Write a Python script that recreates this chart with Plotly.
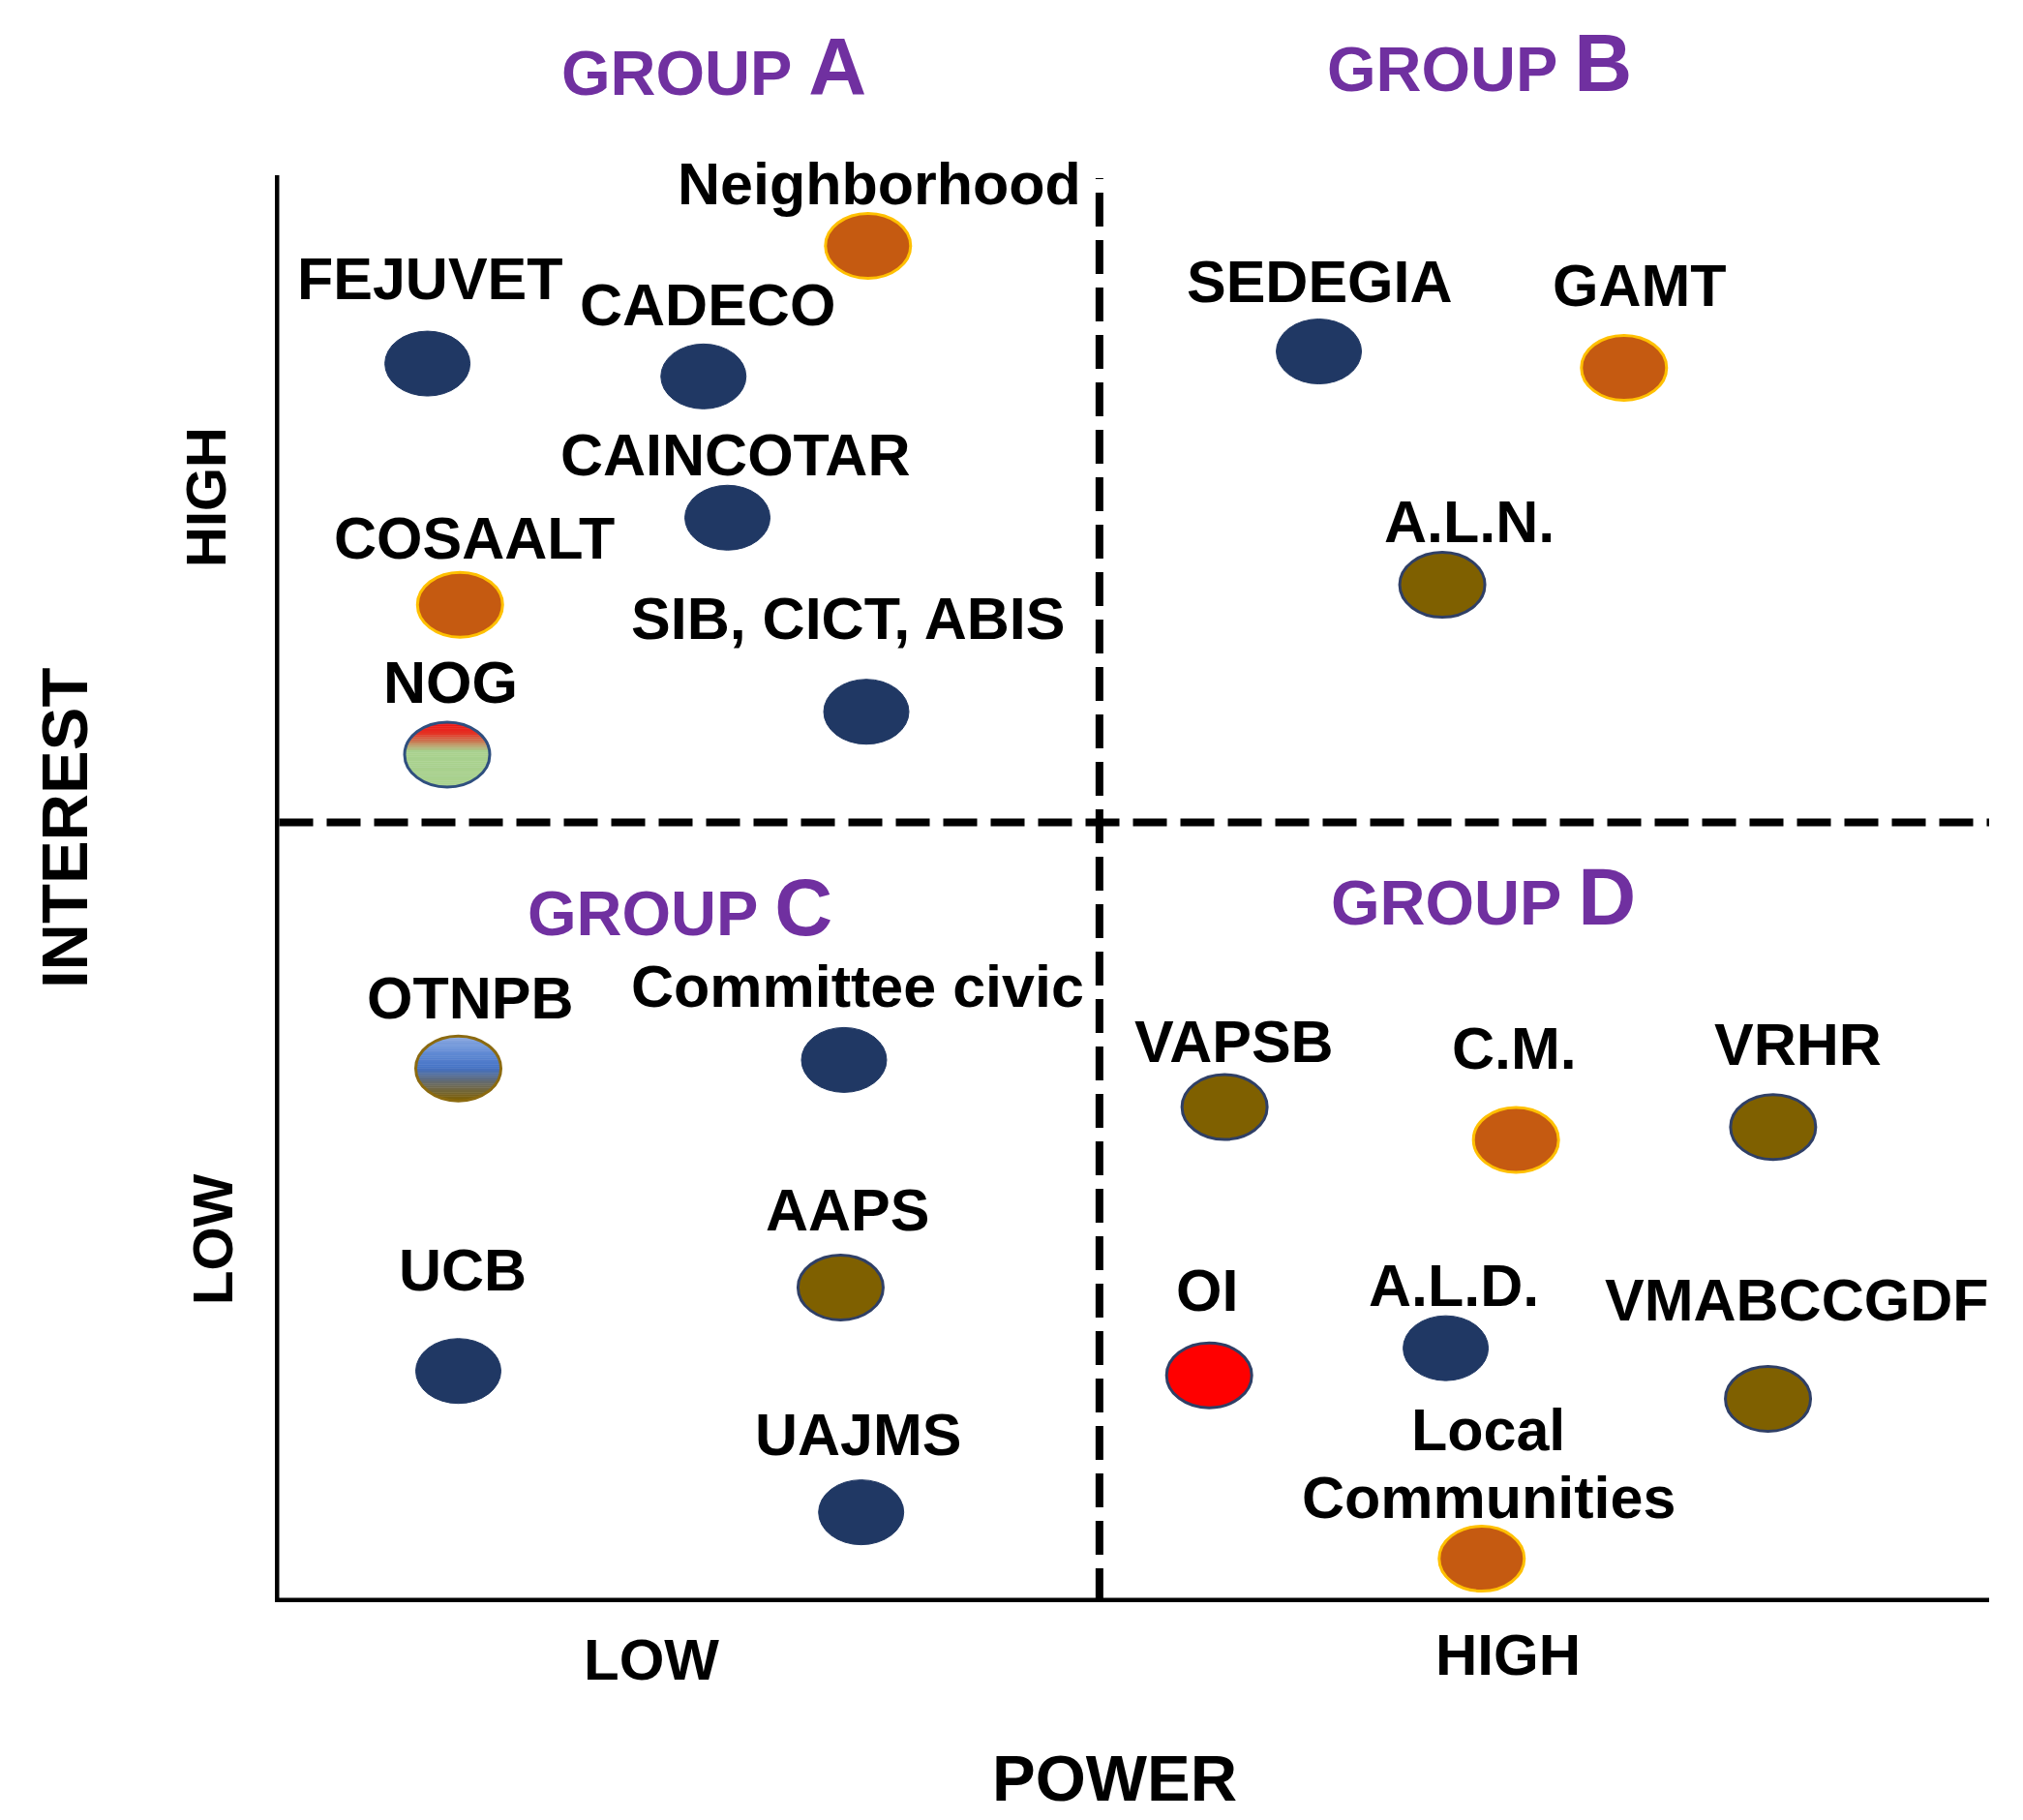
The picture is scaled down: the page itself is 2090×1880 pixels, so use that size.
import plotly.graph_objects as go
import numpy as np

# ---------------- data ----------------
names = ["Neighborhood", "FEJUVET", "CADECO", "CAINCOTAR", "COSAALT",
         "SIB, CICT, ABIS", "NOG", "SEDEGIA", "GAMT", "A.L.N.",
         "OTNPB", "Committee civic", "AAPS", "UCB", "UAJMS",
         "VAPSB", "C.M.", "VRHR", "OI", "A.L.D.", "VMABCCGDF",
         "Local<br>Communities"]
power = [34.6, 8.9, 25.0, 26.4, 10.8, 34.5, 10.05, 60.9, 78.7, 68.1,
         10.7, 33.2, 33.0, 10.7, 34.2, 55.4, 72.4, 87.4, 54.5, 68.3, 87.1, 70.4]
interest = [95.05, 86.8, 85.9, 76.0, 69.9, 62.4, 59.4, 87.65, 86.5, 71.3,
            37.4, 38.0, 22.05, 16.2, 6.3, 34.7, 32.4, 33.3, 15.9, 17.8, 14.25, 3.05]
kind = ["orange", "navy", "navy", "navy", "orange", "navy", "nog", "navy",
        "orange", "olive", "otnpb", "navy", "olive", "navy", "navy", "olive",
        "orange", "olive", "red", "navy", "olive", "orange"]
power_split = 48.1
interest_split = 54.65
groups = ["A", "B", "C", "D"]

# ---------------- styling ----------------
W, H = 2090, 1880
ML, MR, MT, MB = 284, 35, 181, 225
PW, PH = W - ML - MR, H - MT - MB
RX, RY = 44 * 100 / PW, 33.5 * 100 / PH  # ellipse radii in data units
AXW = 9      # axis line width (px)
DASHW = 8    # divider line width (px)

styles = {
    "navy": dict(fill="#203864", line="#203864", lw=1),
    "orange": dict(fill="#C55A11", line="#FFC000", lw=3),
    "olive": dict(fill="#7F6000", line="#2F3F66", lw=3),
    "red": dict(fill="#FF0000", line="#2F3F66", lw=3),
}
gradients = {
    "nog": dict(stops=[(0.0, "#EE1111"), (0.18, "#E53325"), (0.45, "#A9D18E"), (1.0, "#A9D18E")],
                line="#2F4F7F"),
    "otnpb": dict(stops=[(0.0, "#8EAADF"), (0.2, "#6A92D8"), (0.5, "#4472C4"), (0.75, "#6A6A60"), (1.0, "#7F6000")],
                  line="#8B6A10"),
}
LABEL_LIFT = 5
LINE_H = 70
label_shift = [(12, 59), (3, 83), (4, 69), (8, 60), (15, 64), (-19, 91), (4, 69),
               (1, 67), (16, 80), (28, 60), (12, 68), (14, 71), (7, 75), (4, 99),
               (-3, 75), (10, 63), (-2, 89), (26, 80), (-2, 83), (8, 60), (29, 97), (7, 93)]

PURPLE = "#7030A0"
FONT = "Liberation Sans"


def paper_x(px):
    return (px - ML) / PW


def paper_y(py):
    return (H - MB - py) / PH


def hex_to_rgb(h):
    h = h.lstrip("#")
    return tuple(int(h[i:i + 2], 16) for i in (0, 2, 4))


def interp_color(stops, t):
    for (t0, c0), (t1, c1) in zip(stops[:-1], stops[1:]):
        if t0 <= t <= t1:
            f = 0 if t1 == t0 else (t - t0) / (t1 - t0)
            a, b = hex_to_rgb(c0), hex_to_rgb(c1)
            r = [round(a[i] + (b[i] - a[i]) * f) for i in range(3)]
            return "rgb(%d,%d,%d)" % tuple(r)
    return stops[-1][1]


fig = go.Figure()
fig.add_trace(go.Scatter(x=power, y=interest, mode="markers",
                         marker=dict(size=1, opacity=0), hoverinfo="text",
                         text=[n.replace("<br>", " ") for n in names], showlegend=False))

shapes = []
# axis lines (drawn as shapes so they are centred on the plot edges)
half_x = AXW / 2 * 100 / PW
shapes.append(dict(type="line", xref="x", yref="y", x0=0, x1=0, y0=0, y1=100,
                   line=dict(color="black", width=AXW)))
shapes.append(dict(type="line", xref="x", yref="y", x0=-half_x, x1=100, y0=0, y1=0,
                   line=dict(color="black", width=AXW)))
# dividers
shapes.append(dict(type="line", xref="x", yref="y", x0=power_split, x1=power_split,
                   y0=0, y1=99.8, line=dict(color="black", width=DASHW, dash="35px,14px")))
shapes.append(dict(type="line", xref="x", yref="y", x0=half_x, x1=100,
                   y0=interest_split, y1=interest_split,
                   line=dict(color="black", width=DASHW, dash="35px,14px")))

for x, y, k in zip(power, interest, kind):
    if k in styles:
        s = styles[k]
        shapes.append(dict(type="circle", xref="x", yref="y",
                           x0=x - RX, x1=x + RX, y0=y - RY, y1=y + RY,
                           fillcolor=s["fill"], line=dict(color=s["line"], width=s["lw"])))
    else:
        g = gradients[k]
        nb = 30
        for i in range(nb):
            t0, t1 = i / nb, (i + 1) / nb
            ys = np.linspace(y + RY - 2 * RY * t0, y + RY - 2 * RY * t1, 5)
            xs = RX * np.sqrt(np.clip(1 - ((ys - y) / RY) ** 2, 0, 1))
            pts = [(x - xx, yy) for xx, yy in zip(xs, ys)] + \
                  [(x + xx, yy) for xx, yy in zip(xs[::-1], ys[::-1])]
            path = "M " + " L ".join("%.4f,%.4f" % p for p in pts) + " Z"
            col = interp_color(g["stops"], (t0 + t1) / 2)
            shapes.append(dict(type="path", xref="x", yref="y", path=path,
                               fillcolor=col, line=dict(color=col, width=0.5)))
        shapes.append(dict(type="circle", xref="x", yref="y",
                           x0=x - RX, x1=x + RX, y0=y - RY, y1=y + RY,
                           fillcolor="rgba(0,0,0,0)", line=dict(color=g["line"], width=3)))

annotations = []
for n, x, y, (dx, dy) in zip(names, power, interest, label_shift):
    lines = n.split("<br>")
    nl = len(lines)
    for j, ln in enumerate(lines):
        off = (nl - 1 - 2 * j) * LINE_H / 2
        annotations.append(dict(x=x, y=y, xref="x", yref="y", text="<b>%s</b>" % ln,
                                showarrow=False, xanchor="center", yanchor="middle",
                                xshift=dx, yshift=dy + off + LABEL_LIFT,
                                font=dict(family=FONT, size=61, color="black")))

group_pos = [(737, 70), (1528, 66), (702, 937), (1532, 926)]
for gname, (gx, gy) in zip(groups, group_pos):
    annotations.append(dict(x=paper_x(gx), y=paper_y(gy), xref="paper", yref="paper",
                            text="<b>GROUP <span style='font-size:83px'>%s</span></b>" % gname,
                            showarrow=False, xanchor="center", yanchor="middle",
                            font=dict(family=FONT, size=65, color=PURPLE)))

axis_labels = [
    ("LOW", 673, 1714, 0, 60), ("HIGH", 1558, 1709, 0, 60),
    ("POWER", 1151, 1836, 0, 67),
    ("HIGH", 212, 514, -90, 58), ("LOW", 219, 1280, -90, 58),
    ("INTEREST", 66, 856, -90, 67),
]
for t, ax_, ay_, ang, sz in axis_labels:
    annotations.append(dict(x=paper_x(ax_), y=paper_y(ay_), xref="paper", yref="paper",
                            text="<b>%s</b>" % t, showarrow=False, textangle=ang,
                            xanchor="center", yanchor="middle",
                            font=dict(family=FONT, size=sz, color="black")))

fig.update_layout(
    width=W, height=H,
    margin=dict(l=ML, r=MR, t=MT, b=MB, pad=0),
    paper_bgcolor="white", plot_bgcolor="white",
    shapes=shapes, annotations=annotations,
    xaxis=dict(range=[0, 100], showgrid=False, zeroline=False, showticklabels=False,
               ticks="", showline=False, fixedrange=True),
    yaxis=dict(range=[0, 100], showgrid=False, zeroline=False, showticklabels=False,
               ticks="", showline=False, fixedrange=True),
    showlegend=False,
)

fig.write_html("out.html", config={"displayModeBar": False},
               post_script="document.body.style.margin='0';document.body.style.padding='0';")
